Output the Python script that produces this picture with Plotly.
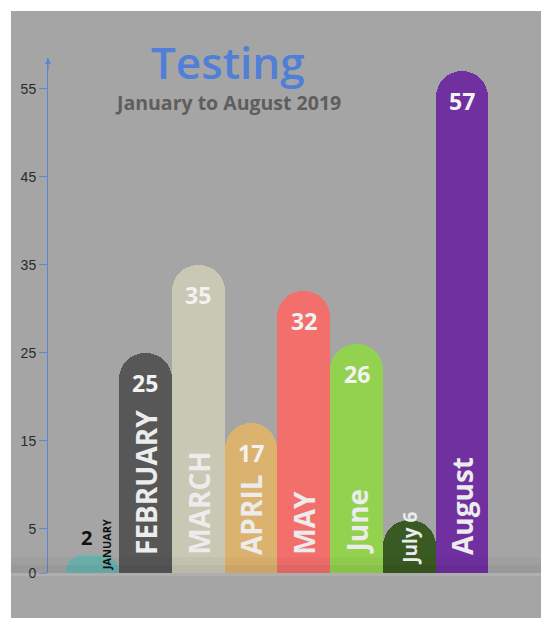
import plotly.graph_objects as go

# ---- data ----
months = ["JANUARY", "FEBRUARY", "MARCH", "APRIL", "MAY", "June", "July", "August"]
values = [2, 25, 35, 17, 32, 26, 6, 57]
colors = ["#6db3ae", "#575757", "#c9c8b4", "#dcb26f", "#f26f6c", "#93d24f", "#3a5a23", "#7030a0"]
y_ticks = [0, 5, 15, 25, 35, 45, 55]
title_text = "Testing"
subtitle_text = "January to August 2019"

FONT = "Open Sans"
BLUE = "#5b86d6"
GRAY_BG = "#a5a5a5"

fig = go.Figure()
fig.add_trace(go.Bar(
    x=months, y=values,
    marker=dict(color=colors, line=dict(width=0), cornerradius="50%"),
    hoverinfo="x+y",
))

annotations = []
for i, (m, v) in enumerate(zip(months, values)):
    if i == 0:
        annotations.append(dict(x=m, y=v, xref="x", yref="y", text="<b>%d</b>" % v,
                                showarrow=False, yanchor="bottom", xanchor="center",
                                xshift=-6, yshift=2,
                                font=dict(family=FONT, size=20, color="#111111")))
        annotations.append(dict(x=m, y=0, xref="x", yref="y", text="<b>%s</b>" % m,
                                showarrow=False, yanchor="bottom", xanchor="center",
                                textangle=-90, xshift=14, yshift=1,
                                font=dict(family=FONT, size=11, color="#111111")))
    elif i == 6:
        annotations.append(dict(x=m, y=0, xref="x", yref="y", text="<b>%s %d</b>" % (m, v),
                                showarrow=False, yanchor="bottom", xanchor="center",
                                textangle=-90, yshift=6,
                                font=dict(family=FONT, size=19, color="#ececec")))
    else:
        annotations.append(dict(x=m, y=v, xref="x", yref="y", text="<b>%d</b>" % v,
                                showarrow=False, yanchor="middle", xanchor="center",
                                yshift=-30,
                                font=dict(family=FONT, size=23, color="#f2f2f2")))
        annotations.append(dict(x=m, y=0, xref="x", yref="y", text="<b>%s</b>" % m,
                                showarrow=False, yanchor="bottom", xanchor="center",
                                textangle=-90, yshift=16,
                                font=dict(family=FONT, size=28, color="#ececec")))

annotations.append(dict(x=0.365, y=0.992, xref="paper", yref="paper", text=title_text,
                        showarrow=False, xanchor="center", yanchor="middle",
                        font=dict(family=FONT, size=44, color="#4f7fd6", weight=600)))
annotations.append(dict(x=0.365, y=0.913, xref="paper", yref="paper", text="<b>%s</b>" % subtitle_text,
                        showarrow=False, xanchor="center", yanchor="middle",
                        font=dict(family=FONT, size=19.5, color="#5e5e5e")))
annotations.append(dict(x=0, y=1, xref="paper", yref="paper", text="", showarrow=True,
                        ax=0, ay=14, arrowhead=2, arrowsize=1, arrowwidth=1.2,
                        arrowcolor=BLUE))

shapes = [
    dict(type="rect", xref="paper", yref="paper", x0=-0.0751, x1=1.01, y0=-0.1, y1=1.0913,
         fillcolor=GRAY_BG, line=dict(width=0), layer="below"),
    dict(type="rect", xref="paper", yref="y", x0=-0.0751, x1=1.01, y0=0, y1=0.9,
         fillcolor="rgba(0,0,0,0.04)", line=dict(width=0), layer="above"),
    dict(type="rect", xref="paper", yref="y", x0=-0.0751, x1=1.01, y0=0, y1=1.8,
         fillcolor="rgba(0,0,0,0.03)", line=dict(width=0), layer="above"),
    dict(type="rect", xref="paper", yref="paper", x0=-0.0751, x1=1.01, y0=-0.006, y1=0,
         fillcolor="rgba(255,255,255,0.10)", line=dict(width=0), layer="above"),
]

fig.update_layout(
    width=541, height=618,
    margin=dict(l=48, r=0, t=58, b=45, pad=0),
    paper_bgcolor="white",
    plot_bgcolor="rgba(0,0,0,0)",
    bargap=0,
    showlegend=False,
    annotations=annotations,
    shapes=shapes,
    xaxis=dict(range=[-0.848, 8.497], showticklabels=False, showgrid=False,
               zeroline=False, showline=False, ticks=""),
    yaxis=dict(range=[0, 58.5], tickvals=y_ticks, showgrid=False, zeroline=False,
               showline=True, linecolor=BLUE, linewidth=1,
               ticks="outside", ticklen=8, tickcolor=BLUE, tickwidth=1,
               tickfont=dict(family="Liberation Sans", size=14, color="#2a2a2a")),
)

fig.write_html("out.html", config={"displayModeBar": False},
               post_script="document.body.style.margin='0';document.body.style.overflow='hidden';")
